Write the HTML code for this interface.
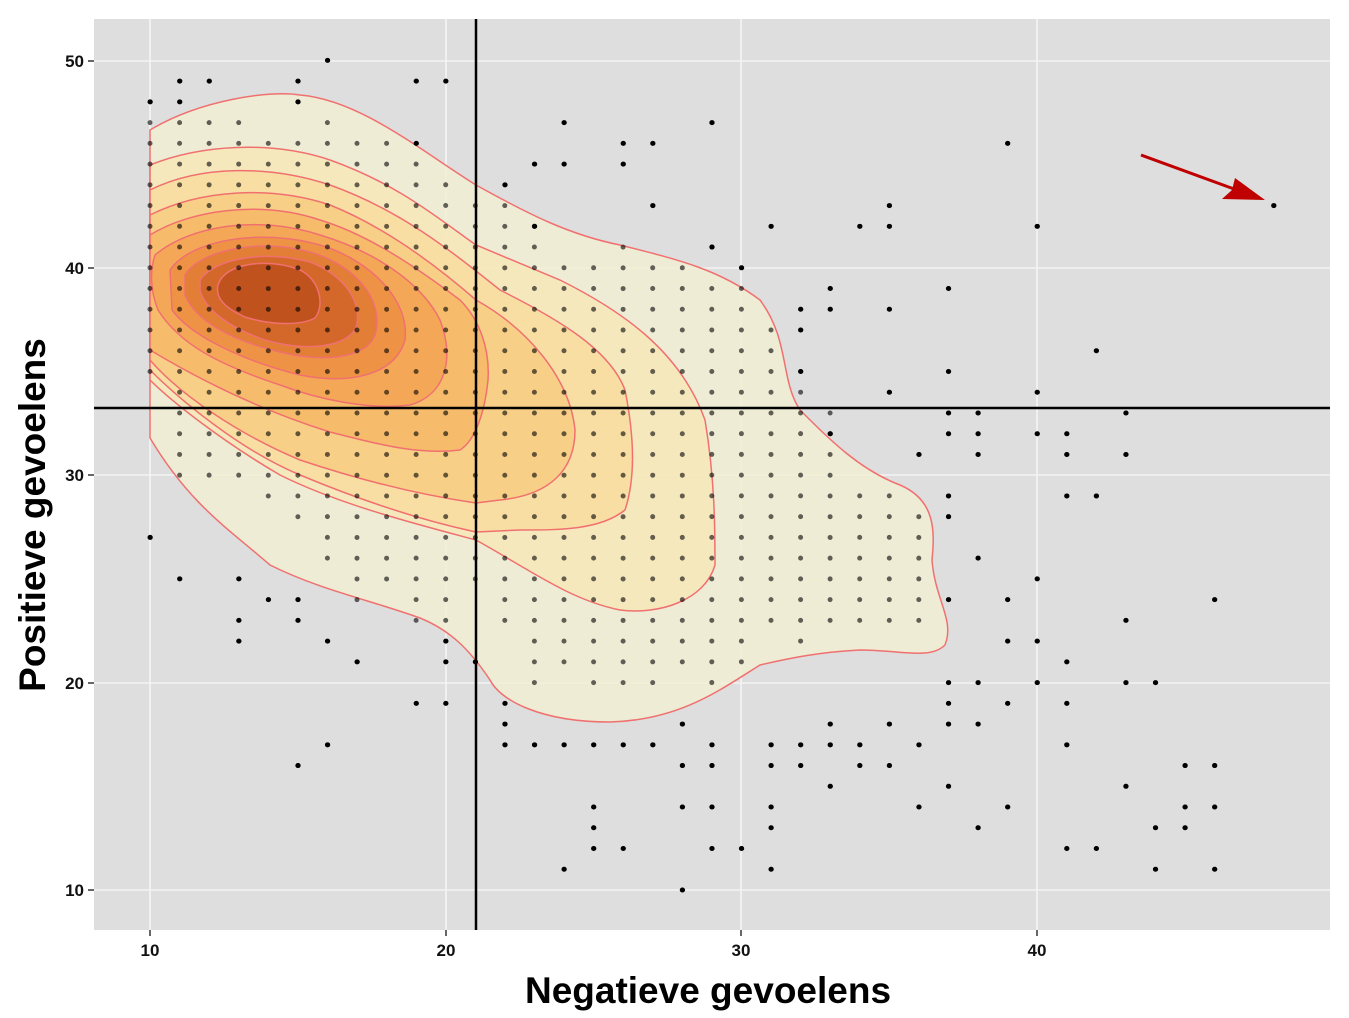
<!DOCTYPE html>
<html><head><meta charset="utf-8"><style>
html,body{margin:0;padding:0;background:#fff;}
svg{display:block;font-family:"Liberation Sans",Arial,sans-serif;}
</style></head><body>
<svg width="1349" height="1018" viewBox="0 0 1349 1018">
<rect x="94" y="19" width="1236" height="911" fill="#dedede"/>
<g stroke="#f4f4f4" stroke-width="1.6">
<line x1="150" y1="19" x2="150" y2="930"/><line x1="446" y1="19" x2="446" y2="930"/>
<line x1="741" y1="19" x2="741" y2="930"/><line x1="1037" y1="19" x2="1037" y2="930"/>
<line x1="94" y1="61" x2="1330" y2="61"/><line x1="94" y1="268" x2="1330" y2="268"/>
<line x1="94" y1="475" x2="1330" y2="475"/><line x1="94" y1="683" x2="1330" y2="683"/>
<line x1="94" y1="890" x2="1330" y2="890"/>
</g>
<!-- contours -->
<g stroke="#f07070" stroke-width="1.5" fill-opacity="0.85">
<path fill="#f1efd2" d="M150,130 C200,100 270,90 300,95 C360,100 420,150 476,185 C530,215 570,235 620,245 C680,260 720,270 760,300 C790,340 780,380 800,410 C830,440 860,470 900,485 C935,500 935,530 932,560 C935,600 955,620 945,645 C930,660 900,650 860,650 C820,652 790,658 760,665 C720,690 680,720 610,722 C540,722 500,700 490,680 C470,650 450,630 420,618 C370,600 320,590 270,565 C230,530 190,505 150,438 Z"/>
<path fill="#f7e8b8" d="M150,165 C200,145 270,140 330,160 C400,185 440,220 476,245 L560,280 C620,310 680,350 705,420 C715,480 715,530 715,565 C705,600 660,615 620,610 C570,600 530,570 476,540 C420,525 340,505 280,475 C220,440 170,400 150,380 Z"/>
<path fill="#f8dc9f" d="M150,190 C200,165 270,165 330,185 C400,210 450,250 500,290 C560,320 610,350 625,390 C635,440 635,480 625,510 C600,530 560,530 520,530 L476,532 C420,520 360,500 300,475 C240,450 180,400 150,370 Z"/>
<path fill="#f8cc82" d="M150,215 C200,190 270,185 330,205 C380,225 430,260 476,300 C530,330 570,380 575,430 C575,470 550,495 500,500 L476,503 C420,495 360,480 300,460 C240,435 180,395 150,360 Z"/>
<path fill="#f6b866" d="M150,235 C190,210 260,200 320,220 C370,235 420,270 460,300 C480,320 490,350 488,380 C485,410 476,440 460,450 C420,455 380,445 330,432 C260,410 200,380 150,350 Z"/>
<path fill="#f3a453" d="M155,255 C190,225 260,215 320,235 C370,250 420,280 440,320 C455,360 445,395 410,405 C370,410 320,400 280,385 C220,365 180,345 158,310 C150,290 150,270 155,255 Z"/>
<path fill="#ec8f42" d="M170,270 C190,240 260,228 320,245 C370,260 410,300 405,340 C395,375 350,385 300,375 C240,360 190,335 172,310 Z"/>
<path fill="#e07a35" d="M185,275 C200,250 260,238 310,252 C355,265 385,300 375,335 C365,360 320,362 280,352 C230,340 195,320 185,295 Z"/>
<path fill="#d06428" d="M200,280 C215,258 265,250 310,262 C345,275 365,305 355,330 C340,350 300,350 265,340 C230,328 205,310 200,290 Z"/>
<path fill="#bc4f1c" d="M218,285 C225,262 270,258 300,270 C320,280 325,305 315,318 C300,326 270,325 245,317 C225,308 215,298 218,285 Z"/>
</g>
<!-- dense grid of points -->
<g stroke="#000" stroke-opacity="0.6" stroke-width="5" stroke-linecap="round" stroke-dasharray="0 20.74" fill="none">
<path d="M150 122.6V392.2M179.6 122.6V475.2M209.1 122.6V495.9M238.7 122.6V495.9M268.3 143.4V516.7M297.9 143.4V537.4M327.4 122.6V558.2M357 143.4V620.4M386.6 143.4V599.6M416.1 164.1V620.4M445.7 184.8V620.4M475.3 205.6V599.6M504.8 205.6V641.1M534.4 226.3V682.6M564 267.8V682.6M593.6 267.8V703.3M623.1 247.1V703.3M652.7 267.8V703.3M682.3 267.8V682.6M711.8 288.5V682.6M741.4 288.5V661.9M771 330V641.1M800.6 392.2V641.1M830.1 413V641.1M859.7 495.9V620.4M889.3 495.9V620.4M918.8 516.7V620.4"/>
</g>
<g transform="matrix(29.57 0 0 -20.74 -145.7 1097.4)" stroke="#000" stroke-width="5" stroke-linecap="round" fill="none">
<path vector-effect="non-scaling-stroke" d="M16 50h.01M11 49h.01M12 49h.01M15 49h.01M19 49h.01M20 49h.01M10 48h.01M11 48h.01M15 48h.01M24 47h.01M29 47h.01M19 46h.01M26 46h.01M27 46h.01M39 46h.01M23 45h.01M24 45h.01M26 45h.01M22 44h.01M27 43h.01M35 43h.01M48 43h.01M23 42h.01M31 42h.01M34 42h.01M35 42h.01M40 42h.01M29 41h.01M30 40h.01M37 39h.01M33 39h.01M32 38h.01M33 38h.01M35 38h.01M32 37h.01M42 36h.01M32 35h.01M37 35h.01M35 34h.01M40 34h.01M43 33h.01M37 33h.01M38 33h.01M33 32h.01M37 32h.01M38 32h.01M40 32h.01M41 32h.01M36 31h.01M38 31h.01M41 31h.01M43 31h.01M37 29h.01M41 29h.01M42 29h.01M37 28h.01M10 27h.01M38 26h.01M11 25h.01M13 25h.01M40 25h.01M14 24h.01M15 24h.01M37 24h.01M39 24h.01M46 24h.01M13 23h.01M15 23h.01M43 23h.01M13 22h.01M16 22h.01M20 22h.01M39 22h.01M40 22h.01M17 21h.01M20 21h.01M21 21h.01M41 21h.01M37 20h.01M38 20h.01M40 20h.01M43 20h.01M44 20h.01M19 19h.01M20 19h.01M22 19h.01M37 19h.01M39 19h.01M41 19h.01M22 18h.01M28 18h.01M33 18h.01M35 18h.01M37 18h.01M38 18h.01M16 17h.01M22 17h.01M23 17h.01M24 17h.01M25 17h.01M26 17h.01M27 17h.01M29 17h.01M31 17h.01M32 17h.01M33 17h.01M34 17h.01M36 17h.01M41 17h.01M15 16h.01M28 16h.01M29 16h.01M31 16h.01M32 16h.01M34 16h.01M35 16h.01M45 16h.01M46 16h.01M33 15h.01M37 15h.01M43 15h.01M25 14h.01M28 14h.01M29 14h.01M31 14h.01M36 14h.01M39 14h.01M45 14h.01M46 14h.01M25 13h.01M31 13h.01M38 13h.01M44 13h.01M45 13h.01M25 12h.01M26 12h.01M29 12h.01M30 12h.01M41 12h.01M42 12h.01M24 11h.01M31 11h.01M44 11h.01M46 11h.01M28 10h.01"/>
</g>
<line x1="476" y1="19" x2="476" y2="930" stroke="#000" stroke-width="2.5"/>
<line x1="94" y1="408" x2="1330" y2="408" stroke="#000" stroke-width="2.5"/>
<line x1="1141" y1="155" x2="1245" y2="193" stroke="#c00000" stroke-width="3"/>
<polygon points="1265,200 1222,199 1232,190 1235,178" fill="#c00000"/>
<g font-weight="bold" font-size="17" fill="#111">
<text x="150" y="956" text-anchor="middle">10</text><text x="446" y="956" text-anchor="middle">20</text>
<text x="741" y="956" text-anchor="middle">30</text><text x="1037" y="956" text-anchor="middle">40</text>
<text x="84" y="67" text-anchor="end">50</text><text x="84" y="274" text-anchor="end">40</text>
<text x="84" y="481" text-anchor="end">30</text><text x="84" y="689" text-anchor="end">20</text>
<text x="84" y="896" text-anchor="end">10</text>
</g>
<g stroke="#333" stroke-width="1.5">
<line x1="150" y1="930" x2="150" y2="936"/><line x1="446" y1="930" x2="446" y2="936"/><line x1="741" y1="930" x2="741" y2="936"/><line x1="1037" y1="930" x2="1037" y2="936"/>
<line x1="88" y1="61" x2="94" y2="61"/><line x1="88" y1="268" x2="94" y2="268"/><line x1="88" y1="475" x2="94" y2="475"/><line x1="88" y1="683" x2="94" y2="683"/><line x1="88" y1="890" x2="94" y2="890"/>
</g>
<text x="708" y="1003" text-anchor="middle" font-weight="bold" font-size="37" fill="#000">Negatieve gevoelens</text>
<text transform="translate(45,515) rotate(-90)" text-anchor="middle" font-weight="bold" font-size="37" fill="#000">Positieve gevoelens</text>
</svg>
</body></html>
